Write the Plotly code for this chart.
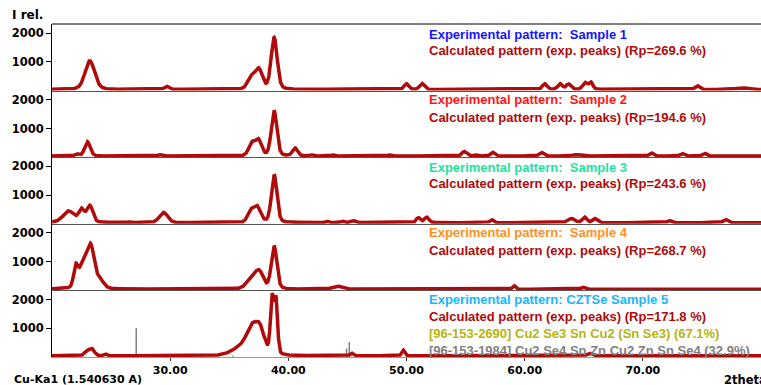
import numpy as np
import plotly.graph_objects as go
from plotly.subplots import make_subplots

# ---------------- data ----------------
# peak lists of the calculated patterns: position (2theta), height (counts), FWHM (deg)
s1_pos = [23.2, 29.7, 36.85, 37.5, 38.8, 50.0, 51.3, 61.7, 63.0, 63.7, 65.1, 65.6, 74.6, 78.4]
s1_h   = [1000, 110, 400, 680, 1800, 200, 210, 200, 200, 190, 230, 250, 130, 60]
s1_w   = [0.95, 0.45, 0.7, 0.7, 0.6, 0.45, 0.45, 0.45, 0.45, 0.45, 0.45, 0.4, 0.45, 1.0]

s2_pos = [22.1, 23.0, 29.15, 36.9, 37.47, 38.79, 40.57, 42.0, 43.8, 48.6, 54.88, 55.9, 57.28, 61.42, 64.4, 68.3, 70.72, 73.34, 75.22]
s2_h   = [70, 500, 50, 430, 540, 1580, 270, 40, 40, 40, 160, 40, 130, 130, 50, 30, 110, 90, 100]
s2_w   = [0.4, 0.55, 0.4, 0.6, 0.6, 0.55, 0.5, 0.3, 0.3, 0.3, 0.45, 0.3, 0.4, 0.45, 0.8, 0.3, 0.4, 0.4, 0.4]

s3_pos = [21.4, 22.5, 23.2, 26.45, 29.43, 36.8, 37.35, 38.8, 43.36, 44.6, 45.4, 45.65, 51.0, 51.7, 57.2, 63.96, 65.08, 65.93, 72.27, 77.0]
s3_h   = [400, 440, 580, 30, 360, 340, 540, 1660, 40, 50, 50, 50, 170, 190, 110, 140, 190, 140, 75, 110]
s3_w   = [1.1, 0.55, 0.6, 0.3, 0.8, 0.6, 0.7, 0.55, 0.3, 0.3, 0.3, 0.3, 0.4, 0.45, 0.35, 0.7, 0.45, 0.45, 0.4, 0.45]

s4_pos = [22.0, 22.7, 23.3, 24.0, 36.9, 37.55, 38.79, 44.1, 59.1, 64.94]
s4_h   = [620, 920, 1180, 320, 360, 540, 1500, 110, 130, 70]
s4_w   = [0.4, 1.0, 0.65, 0.8, 1.0, 0.8, 0.55, 0.9, 0.3, 0.4]

s5_pos = [22.96, 23.38, 24.5, 36.2, 36.9, 37.6, 38.62, 38.95, 45.36, 49.72, 65.5]
s5_h   = [150, 230, 70, 320, 720, 820, 1930, 1880, 90, 200, 90]
s5_w   = [0.5, 0.5, 0.3, 2.0, 1.0, 0.9, 0.32, 0.32, 0.3, 0.3, 0.5]

# reference phase line positions / intensities (panel 5)
ref_gray_pos = [27.13, 44.93, 45.16]
ref_gray_h   = [1000, 300, 520]
ref_olive_pos = [22.1, 24.1, 31.0, 31.4, 35.3, 42.9, 47.2, 47.5, 48.4, 49.0, 53.5, 56.0, 58.3, 63.0, 66.0, 71.5, 76.0]
ref_olive_h   = [60, 60, 50, 50, 50, 60, 50, 50, 60, 50, 50, 50, 50, 50, 50, 50, 50]

background = 40

legend_exp = ["Experimental pattern:\u00a0 Sample 1", "Experimental pattern:\u00a0 Sample 2",
              "Experimental pattern:\u00a0 Sample 3", "Experimental pattern:\u00a0 Sample 4",
              "Experimental pattern: CZTSe Sample 5"]
legend_calc = ["Calculated pattern (exp. peaks) (Rp=269.6 %)", "Calculated pattern (exp. peaks) (Rp=194.6 %)",
               "Calculated pattern (exp. peaks) (Rp=243.6 %)", "Calculated pattern (exp. peaks) (Rp=268.7 %)",
               "Calculated pattern (exp. peaks) (Rp=171.8 %)"]
phase_labels = ["[96-153-2690] Cu2 Se3 Sn Cu2 (Sn Se3) (67.1%)",
                "[96-153-1984] Cu2 Se4 Sn Zn Cu2 Zn Sn Se4 (32.9%)"]

x_ticks = [30, 40, 50, 60, 70]
x_ticklabels = ["30.00", "40.00", "50.00", "60.00", "70.00"]
y_ticks = [1000, 2000]
y_ticklabels = ["1000", "2000"]

# ---------------- styling ----------------
exp_colors = ["#1414ff", "#ff1414", "#1ee3a0", "#ff9020", "#20b4ff"]
calc_color = "#b00a0a"
olive = "#b4b414"
gray = "#808080"

W, H = 761, 385
ML, MR, MT, MB = 52, 0, 24, 28
PW, PH = W - ML - MR, H - MT - MB


def profile(x, pos, h, w):
    y = np.full_like(x, background, dtype=float)
    for p, a, f in zip(pos, h, w):
        g = np.exp(-4 * np.log(2) * ((x - p) / f) ** 2)
        l = 1.0 / (1.0 + 4 * ((x - p) / f) ** 2)
        y += a * (0.75 * g + 0.25 * l)
    return y


x = np.arange(20.0, 80.0001, 0.02)
samples = [(s1_pos, s1_h, s1_w), (s2_pos, s2_h, s2_w), (s3_pos, s3_h, s3_w),
           (s4_pos, s4_h, s4_w), (s5_pos, s5_h, s5_w)]

fig = make_subplots(rows=5, cols=1, shared_xaxes=True, vertical_spacing=0)

for i, (p, h, w) in enumerate(samples):
    row = i + 1
    if row == 5:
        for xs, hs, col in [(ref_olive_pos, ref_olive_h, olive), (ref_gray_pos, ref_gray_h, gray)]:
            sx, sy = [], []
            for a, b in zip(xs, hs):
                sx += [a, a, None]
                sy += [0, b, None]
            fig.add_trace(go.Scatter(x=sx, y=sy, mode="lines", line=dict(color=col, width=1.5),
                                     showlegend=False, hoverinfo="skip"), row=row, col=1)
    fig.add_trace(go.Scatter(x=x, y=profile(x, p, h, w), mode="lines",
                             line=dict(color=calc_color, width=3.5),
                             showlegend=False), row=row, col=1)

tickfont = dict(family="DejaVu Sans", size=11.5, color="#000000", weight="bold")

for row in range(1, 6):
    fig.update_yaxes(range=[0, 2320], tickvals=y_ticks, ticktext=y_ticklabels,
                     ticks="outside", ticklen=5, tickcolor="#000", tickwidth=1,
                     showline=True, linecolor="#000", linewidth=1,
                     showgrid=False, zeroline=False, tickfont=tickfont, row=row, col=1)
    fig.update_xaxes(range=[20, 80], showgrid=False, zeroline=False,
                     showline=True, linecolor="#555" if row < 5 else "#999", linewidth=1,
                     row=row, col=1)

fig.update_xaxes(tickvals=x_ticks, ticktext=x_ticklabels, ticks="outside", ticklen=3,
                 tickcolor="#333", tickfont=dict(tickfont, size=11), row=5, col=1)
for row in range(1, 5):
    fig.update_xaxes(showticklabels=False, ticks="", row=row, col=1)


def px(xp):
    return (xp - ML) / PW


def py(yp):
    return (H - MB - yp) / PH


ann = []
font_leg = "Liberation Sans"
line_y = [(34, 51), (100, 117), (167, 183), (233, 250), (299, 316)]
for i in range(5):
    ann.append(dict(x=px(427), y=py(line_y[i][0]), text=legend_exp[i],
                    font=dict(family=font_leg, size=13, color=exp_colors[i], weight="bold")))
    ann.append(dict(x=px(427), y=py(line_y[i][1]), text=legend_calc[i],
                    font=dict(family=font_leg, size=13, color=calc_color, weight="bold")))
ann.append(dict(x=px(427), y=py(333), text=phase_labels[0],
                font=dict(family=font_leg, size=13, color=olive, weight="bold")))
ann.append(dict(x=px(427), y=py(350), text=phase_labels[1],
                font=dict(family=font_leg, size=13, color=gray, weight="bold")))
ann.append(dict(x=px(10), y=py(15), text="I rel.",
                font=dict(family="DejaVu Sans", size=12, color="#000", weight="bold")))
ann.append(dict(x=px(12), y=py(380), text="Cu-Ka1 (1.540630 A)",
                font=dict(family="DejaVu Sans", size=11, color="#000", weight="bold")))
ann.append(dict(x=px(722), y=py(380), text="2theta",
                font=dict(family="DejaVu Sans", size=11.5, color="#000", weight="bold")))
for a in ann:
    a.update(xref="paper", yref="paper", xanchor="left", yanchor="middle", showarrow=False)

fig.update_layout(
    width=W, height=H, margin=dict(l=ML, r=MR, t=MT, b=MB),
    plot_bgcolor="#ffffff", paper_bgcolor="#ffffff",
    annotations=ann, showlegend=False,
    shapes=[dict(type="line", xref="paper", yref="paper", x0=0, x1=1, y0=1, y1=1,
                 line=dict(color="#000", width=1))],
)

fig.write_html("out.html", config={"displayModeBar": False},
               post_script="document.body.style.margin='0';document.body.style.overflow='hidden';")
